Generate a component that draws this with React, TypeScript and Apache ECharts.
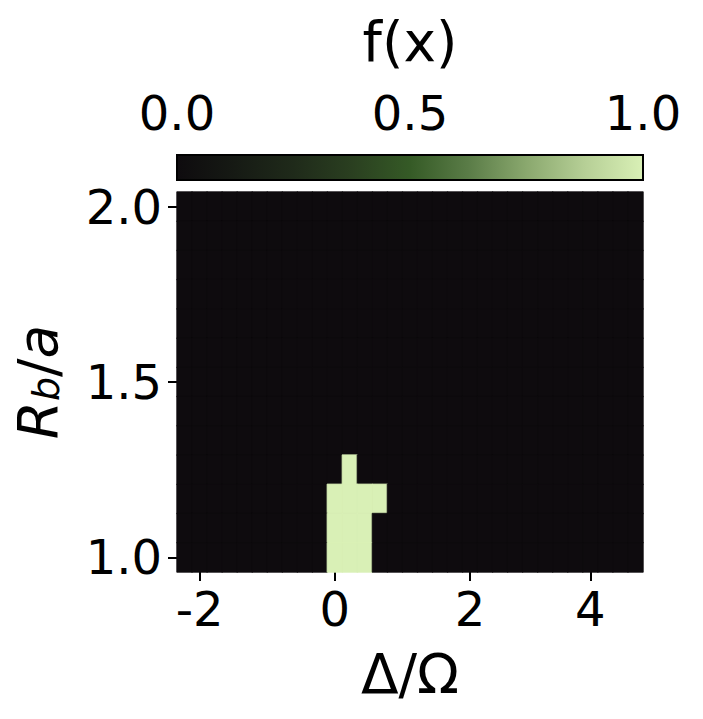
import React, { useEffect, useRef } from "react";
import * as echarts from "echarts";

// colormap stops for f(x) from 0.0 to 1.0
const cmapColors = [
  "#0e0b0e",
  "#161a14",
  "#1f2a1a",
  "#2a3f20",
  "#355a26",
  "#5a7c47",
  "#8aa86e",
  "#b6cf96",
  "#d9f0b6",
];

// x tick columns and labels (Δ/Ω)
const xTickCols = [1, 10, 19, 27];
const xTickLabels = ["-2", "0", "2", "4"];
// y tick rows and labels (R_b/a)
const yTickRows = [0, 6, 12];
const yTickLabels = ["1.0", "1.5", "2.0"];
// colorbar ticks
const cbTicks = [0.0, 0.5, 1.0];

// f(x) grid, top row (R_b/a = 2.0) first, 31 columns along Δ/Ω
const fGrid: number[][] = [
  [0,0,0,0,0,0,0,0,0,0,0,0,0,0,0,0,0,0,0,0,0,0,0,0,0,0,0,0,0,0,0],
  [0,0,0,0,0,0,0,0,0,0,0,0,0,0,0,0,0,0,0,0,0,0,0,0,0,0,0,0,0,0,0],
  [0,0,0,0,0,0,0,0,0,0,0,0,0,0,0,0,0,0,0,0,0,0,0,0,0,0,0,0,0,0,0],
  [0,0,0,0,0,0,0,0,0,0,0,0,0,0,0,0,0,0,0,0,0,0,0,0,0,0,0,0,0,0,0],
  [0,0,0,0,0,0,0,0,0,0,0,0,0,0,0,0,0,0,0,0,0,0,0,0,0,0,0,0,0,0,0],
  [0,0,0,0,0,0,0,0,0,0,0,0,0,0,0,0,0,0,0,0,0,0,0,0,0,0,0,0,0,0,0],
  [0,0,0,0,0,0,0,0,0,0,0,0,0,0,0,0,0,0,0,0,0,0,0,0,0,0,0,0,0,0,0],
  [0,0,0,0,0,0,0,0,0,0,0,0,0,0,0,0,0,0,0,0,0,0,0,0,0,0,0,0,0,0,0],
  [0,0,0,0,0,0,0,0,0,0,0,0,0,0,0,0,0,0,0,0,0,0,0,0,0,0,0,0,0,0,0],
  [0,0,0,0,0,0,0,0,0,0,0,1,0,0,0,0,0,0,0,0,0,0,0,0,0,0,0,0,0,0,0],
  [0,0,0,0,0,0,0,0,0,0,1,1,1,1,0,0,0,0,0,0,0,0,0,0,0,0,0,0,0,0,0],
  [0,0,0,0,0,0,0,0,0,0,1,1,1,0,0,0,0,0,0,0,0,0,0,0,0,0,0,0,0,0,0],
  [0,0,0,0,0,0,0,0,0,0,1,1,1,0,0,0,0,0,0,0,0,0,0,0,0,0,0,0,0,0,0],
];

const FONT = "DejaVu Sans";
const TICK_FS = 48;

export default function App() {
  const ref = useRef<HTMLDivElement>(null);
  useEffect(() => {
    const chart = echarts.init(ref.current!, null, { renderer: "svg" });
    const nRows = fGrid.length;
    const nCols = fGrid[0].length;
    const lo = cmapColors[0];
    const hi = cmapColors[cmapColors.length - 1];
    const data: any[] = [];
    fGrid.forEach((row, r) =>
      row.forEach((v, c) =>
        data.push({
          value: [c, nRows - 1 - r, v],
          itemStyle: { borderColor: v >= 1 ? hi : lo, borderWidth: 0.8 },
        })
      )
    );
    const xCats = Array.from({ length: nCols }, (_, i) => String(i));
    const yCats = Array.from({ length: nRows }, (_, i) => String(i));
    const stops = cmapColors.map((c, i) => ({ offset: i / (cmapColors.length - 1), color: c }));

    chart.setOption({
      animation: false,
      grid: [
        { left: 177, top: 192, width: 466, height: 380, outerBoundsMode: "none", show: true, backgroundColor: lo, borderWidth: 0 },
        { left: 177, top: 155, width: 466, height: 25, outerBoundsMode: "none" },
      ],
      xAxis: [
        {
          type: "category",
          gridIndex: 0,
          data: xCats,
          axisLine: { show: false },
          splitLine: { show: false },
          axisTick: {
            show: true,
            alignWithLabel: true,
            interval: (i: number) => xTickCols.includes(i),
            length: 9,
            lineStyle: { color: "#000", width: 2 },
          },
          axisLabel: {
            interval: (i: number) => xTickCols.includes(i),
            formatter: (v: string) => {
              const k = xTickCols.indexOf(Number(v));
              return k >= 0 ? xTickLabels[k] : "";
            },
            fontSize: TICK_FS,
            fontFamily: FONT,
            color: "#000",
            margin: 13,
          },
          name: "Δ/Ω",
          nameLocation: "middle",
          nameGap: 74,
          nameTextStyle: { fontSize: 55, fontFamily: FONT, color: "#000" },
        },
        {
          type: "value",
          gridIndex: 1,
          position: "top",
          min: 0,
          max: 1,
          interval: 0.5,
          axisLine: { show: false },
          splitLine: { show: false },
          axisTick: { show: true, length: 9, lineStyle: { color: "#000", width: 2 } },
          axisLabel: {
            formatter: (v: number) => {
              const k = cbTicks.indexOf(v);
              return k >= 0 ? cbTicks[k].toFixed(1) : "";
            },
            fontSize: TICK_FS,
            fontFamily: FONT,
            color: "#000",
            margin: 18,
          },
          name: "f(x)",
          nameLocation: "middle",
          nameGap: 86,
          nameTextStyle: { fontSize: 55, fontFamily: FONT, color: "#000" },
        },
      ],
      yAxis: [
        {
          type: "category",
          gridIndex: 0,
          data: yCats,
          axisLine: { show: false },
          splitLine: { show: false },
          axisTick: {
            show: true,
            alignWithLabel: true,
            interval: (i: number) => yTickRows.includes(i),
            length: 9,
            lineStyle: { color: "#000", width: 2 },
          },
          axisLabel: {
            interval: (i: number) => yTickRows.includes(i),
            formatter: (v: string) => {
              const k = yTickRows.indexOf(Number(v));
              return k >= 0 ? yTickLabels[k] : "";
            },
            fontSize: TICK_FS,
            fontFamily: FONT,
            color: "#000",
            margin: 15,
          },
          name: "{i|R}{s|b}{n|/}{i|a}",
          nameLocation: "middle",
          nameGap: 112,
          nameRotate: 90,
          nameTextStyle: {
            fontSize: 55,
            fontFamily: FONT,
            color: "#000",
            rich: {
              i: { fontSize: 55, fontStyle: "italic", fontFamily: FONT, color: "#000", lineHeight: 55, verticalAlign: "top" },
              n: { fontSize: 55, fontFamily: FONT, color: "#000", lineHeight: 55, verticalAlign: "top" },
              s: { fontSize: 38, fontStyle: "italic", fontFamily: FONT, color: "#000", lineHeight: 38, padding: [25, 0, 0, 0], verticalAlign: "bottom" },
            },
          },
        },
        { type: "value", gridIndex: 1, min: 0, max: 1, show: false },
      ],
      visualMap: {
        show: false,
        type: "continuous",
        min: 0,
        max: 1,
        dimension: 2,
        seriesIndex: 0,
        inRange: { color: cmapColors },
      },
      series: [
        {
          type: "heatmap",
          xAxisIndex: 0,
          yAxisIndex: 0,
          data,
          emphasis: { disabled: true },
        },
        {
          type: "custom",
          xAxisIndex: 1,
          yAxisIndex: 1,
          data: [[0, 0]],
          silent: true,
          renderItem: (_params: any, api: any) => {
            const p0 = api.coord([0, 0]);
            const p1 = api.coord([1, 1]);
            return {
              type: "rect",
              shape: { x: p0[0], y: p1[1], width: p1[0] - p0[0], height: p0[1] - p1[1] },
              style: {
                fill: new echarts.graphic.LinearGradient(0, 0, 1, 0, stops),
                stroke: "#000",
                lineWidth: 2,
              },
            };
          },
        },
      ],
    });
    return () => chart.dispose();
  }, []);
  return (
    <div
      ref={ref}
      style={{ position: "fixed", left: 0, top: 0, width: 703, height: 719, background: "#fff" }}
    />
  );
}
